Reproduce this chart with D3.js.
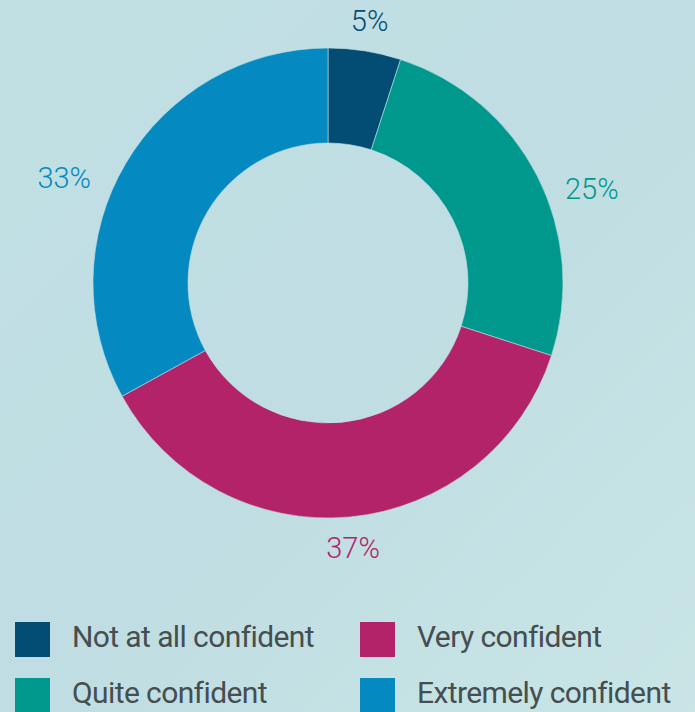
<!DOCTYPE html>
<html>
<head>
<meta charset="utf-8">
<script src="https://cdn.jsdelivr.net/npm/d3@7"></script>
<style>
  html, body { margin: 0; padding: 0; }
  body { width: 695px; height: 712px; overflow: hidden; }
</style>
</head>
<body>
<svg id="chart"></svg>
<script>
// Chart values
const categories = ["Not at all confident", "Quite confident", "Very confident", "Extremely confident"]
const shares = [5, 25, 37, 33]
const colors = ["#034c74", "#00988d", "#b2236a", "#0489c0"]

const width = 695
const height = 712
const cx = 328
const cy = 283
const outerR = 235
const innerR = 140

const svg = d3.select("#chart")
  .attr("width", width)
  .attr("height", height)

// Soft background gradient
const defs = svg.append("defs")
const grad = defs.append("linearGradient")
  .attr("id", "bg")
  .attr("x1", "0%").attr("y1", "0%")
  .attr("x2", "100%").attr("y2", "100%")
grad.append("stop").attr("offset", "0%").attr("stop-color", "#c1e0e4")
grad.append("stop").attr("offset", "50%").attr("stop-color", "#bfdde2")
grad.append("stop").attr("offset", "100%").attr("stop-color", "#c9e5e6")

svg.append("rect")
  .attr("width", width)
  .attr("height", height)
  .attr("fill", "url(#bg)")

const data = categories.map((c, i) => ({ category: c, value: shares[i], color: colors[i] }))

const pie = d3.pie()
  .value(d => d.value)
  .sort(null)

const arc = d3.arc()
  .innerRadius(innerR)
  .outerRadius(outerR)

const arcs = pie(data)

const g = svg.append("g")
  .attr("transform", `translate(${cx}, ${cy})`)

g.selectAll("path")
  .data(arcs)
  .join("path")
  .attr("d", arc)
  .attr("fill", d => d.data.color)
  .attr("stroke", "#c0dfe3")
  .attr("stroke-width", 0.6)

// Percentage labels: top/bottom ones sit outside the ring, side ones hug its edge
function labelPos(d) {
  const a = (d.startAngle + d.endAngle) / 2
  const s = Math.sin(a)
  const c = Math.cos(a)
  if (Math.abs(s) > 0.7) {
    return {
      x: s > 0 ? outerR + 2 : -outerR - 2,
      y: -207 * c,
      anchor: s > 0 ? "start" : "end"
    }
  }
  return { x: 266 * s, y: -266 * c, anchor: "middle" }
}

g.selectAll("text.pct")
  .data(arcs)
  .join("text")
  .attr("class", "pct")
  .each(function (d) {
    const p = labelPos(d)
    d3.select(this)
      .attr("x", p.x)
      .attr("y", p.y)
      .attr("text-anchor", p.anchor)
  })
  .attr("dy", "0.36em")
  .attr("font-family", "Roboto, sans-serif")
  .attr("font-weight", 300)
  .attr("font-size", 29)
  .attr("fill", d => d.data.color)
  .text(d => d.data.value + "%")

// Legend, two columns
const legendX = d3.scaleOrdinal().domain([0, 1]).range([15, 360])
const legendY = d3.scaleOrdinal().domain([0, 1]).range([622, 678])

const legend = svg.append("g")
  .selectAll("g")
  .data(data)
  .join("g")
  .attr("transform", (d, i) => `translate(${legendX(Math.floor(i / 2))}, ${legendY(i % 2)})`)

legend.append("rect")
  .attr("width", 35)
  .attr("height", 35)
  .attr("fill", d => d.color)

legend.append("text")
  .attr("x", 57)
  .attr("y", 24.5)
  .attr("font-family", "Roboto, sans-serif")
  .attr("font-size", 30)
  .attr("letter-spacing", -0.6)
  .attr("fill", "#454e50")
  .text(d => d.category)
</script>
</body>
</html>
